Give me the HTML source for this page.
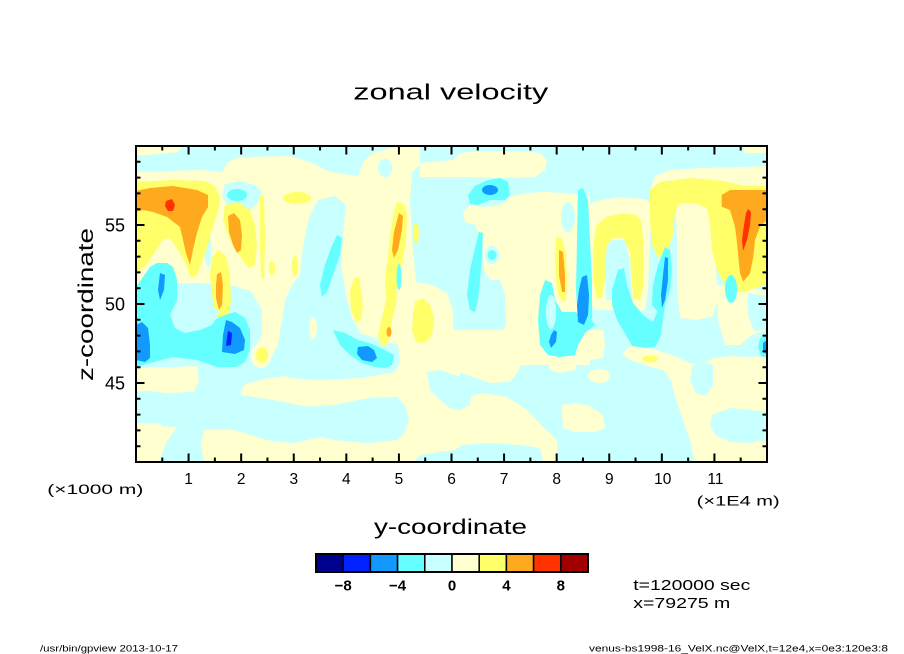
<!DOCTYPE html>
<html><head><meta charset="utf-8"><style>
html,body{margin:0;padding:0;background:#fff;}
svg{display:block;}
text{font-family:"Liberation Sans",sans-serif;fill:#000;}
</style></head><body>
<svg width="904" height="654" viewBox="0 0 904 654" xmlns="http://www.w3.org/2000/svg">
<defs><clipPath id="pc"><rect x="136" y="146" width="631" height="316"/></clipPath></defs>
<rect width="904" height="654" fill="#fff"/>
<g clip-path="url(#pc)" stroke-linejoin="round">
<rect x="136" y="146" width="631" height="316" fill="#c8ffff"/>
<!-- LY -->
<g fill="#ffffd0">
<polygon points="136,146 182,146 178,152 150,155 136,155"/>
<polygon points="136,172 205,170 222,172 228,162 240,157 290,156 310,162 330,172 358,176 363,162 372,153 392,148 420,146 420,165 412,172 410,200 413,250 416,282 432,285 447,293 453,310 453,335 453,355 440,365 420,372 380,375 340,378 280,378 260,370 250,340 250,290 200,284 136,284"/>
<polygon points="136,360 460,360 460,462 136,462"/>
<polygon points="420,163 453,160 460,153 480,151 520,151 540,153 547,160 545,170 535,177 500,178 470,177 453,177 420,177"/>
<polygon points="463,212 470,205 485,207 500,205 510,197 525,193 545,192 565,193 590,196 590,365 420,365 420,330 453,330 460,336 500,336 506,325 505,295 500,280 490,275 486,265 482,240 475,225 465,222"/>
<polygon points="588,205 600,200 620,197 645,199 652,205 650,240 648,290 645,310 630,312 610,310 595,310 588,300"/>
<polygon points="650,190 655,176 670,170 700,168 740,167 767,166 767,205 650,205"/>
<polygon points="743,146 767,146 767,153 745,153"/>
<polygon points="675,195 715,195 718,230 716,270 718,300 712,317 695,320 680,318 677,290 677,240"/>
<polygon points="717,285 750,287 767,292 767,330 752,335 740,345 725,345 718,320"/>
<polygon points="450,330 538,330 540,343 547,360 537,362 522,363 517,373 510,382 490,383 473,377 460,372 450,370"/>
<polygon points="547,358 560,355 575,353 578,360 575,370 560,373 550,370"/>
<polygon points="582,330 603,330 605,345 603,358 590,360 583,350"/>
<ellipse cx="599" cy="376" rx="11" ry="7"/>
<polygon points="621.7,353.3 631.7,345 656.7,350 676.7,356.7 690,363.3 690,386.7 683.3,393.3 676.7,396.7 673.3,383.3 663.3,370 650,366.7 630,360"/>
<polygon points="670,362 690,363 700,365 713,358 730,356 750,357 767,356 767,462 695,462 690,440 683,420 676,400 672,385"/>
<polygon points="450,410 463,398 483,393 507,397 527,410 543,427 557,440 558,462 543,462 540,448 520,445 490,443 460,445 450,447"/>
<polygon points="562,405 575,403 590,406 603,415 605,428 595,432 575,432 563,428 562,415"/>
</g>
<!-- LC carves -->
<g fill="#c8ffff">
<ellipse cx="385" cy="168" rx="7" ry="9"/>
<polygon points="318,200 335,196 346,205 343,235 341,265 346,295 352,318 360,333 380,340 398,345 400,362 395,372 360,378 320,380 290,378 275,372 270,360 278,345 282,320 285,300 292,285 300,275 302,255 305,235 310,215"/>
<polygon points="225,184 240,181 255,185 262,192 258,203 250,210 240,212 228,207 222,196"/>
<ellipse cx="208" cy="250" rx="3.5" ry="17"/>
<polygon points="136,284 200,283 235,286 252,293 262,310 262,335 255,347 265,366 200,366 136,368"/>
<polygon points="136,391.7 147.3,390.7 167.3,393.3 194,391.7 199,380 197.3,366.7 200.7,363.3 214,363.3 234,365 244,376.7 242.3,388.3 240.7,395 274,400 307.3,406.7 334,405 367.3,398.3 397.3,396.7 405.7,406.7 409,420 404,433.3 397.3,440 367.3,443.3 334,440 320.7,436.7 294,443.3 267.3,440 234,430 204,430 200.7,443.3 204,462.3 159,462.3 165.7,443.3 177.3,426.7 164,426.7 159,423.3 136,423.3"/>
<polygon points="200.7,361.7 340.7,361.7 334,373.3 320.7,368.3 314,372.7 294,375 267.3,378.3 247.3,383.3 240.7,388.3 234,396.7 200.7,393.3"/>
<polygon points="427,372 440,370 455,375 465,380 472,390 470,405 460,410 450,408 440,400 430,390"/>
<polygon points="414,462 420,455 440,452 455,450 460,447 460,462"/>
<polygon points="692,366 705,362 713,365 713,385 706,396 696,393 690,380"/>
<polygon points="712,415 730,408 750,410 767,412 767,440 750,443 730,442 715,435 710,425"/>
<polygon points="608,240 625,240 630,260 632,300 606,300 605,260"/>
<ellipse cx="568" cy="217" rx="7" ry="15"/>
<polygon points="748,293 767,296 767,330 754,331 748,315"/>
</g>
<!-- LY islands -->
<g fill="#ffffd0">
<ellipse cx="261" cy="356" rx="10" ry="12"/>
<ellipse cx="313" cy="328" rx="4" ry="11"/>
<polygon points="483,235 500,232 503,240 503,280 490,280 484,270 483,250"/>
</g>
<ellipse cx="492" cy="255" rx="7" ry="9" fill="#c8ffff"/>
<!-- Yellow -->
<g fill="#ffff6a">
<polygon points="136,182 175,180 205,181 215,186 220,198 218,212 213,225 208,245 202,262 197,275 191,278 185,262 178,250 170,238 163,240 155,252 146,265 136,274"/>
<polygon points="225,205 238,202 250,210 255,225 257,245 255,265 248,268 243,260 235,250 228,235 223,220"/>
<polygon points="212,258 218,250 226,256 230,275 231,300 228,318 222,322 215,315 212,295 210,275"/>
<polygon points="260,195 264,196 265,240 264,280 261,278 260,240"/>
<ellipse cx="297" cy="198" rx="14" ry="6"/>
<ellipse cx="272" cy="268" rx="3" ry="7"/>
<ellipse cx="295" cy="266" rx="3" ry="10"/>
<polygon points="397,202 404,204 407,215 406,240 402,265 398,285 392,300 386,297 385,280 388,255 391,230 394,212"/>
<polygon points="354,278 359,277 361,290 363,305 361,320 356,322 351,310 350,292"/>
<polygon points="392,287 397,292 396,305 392,320 390,335 387,345 381,345 378,335 382,318 386,300"/>
<ellipse cx="416" cy="233" rx="3" ry="10"/>
<polygon points="415,302 423,298 430,305 434,318 432,335 425,343 416,342 412,330 413,315"/>
<ellipse cx="262" cy="355" rx="6" ry="8"/>
<polygon points="556,237 562,238 566,255 567,280 566,300 562,302 557,290 555,260"/>
<polygon points="593.3,245 596.7,225 606.7,216.7 623.3,213.3 636.7,215 641.7,221.7 643.3,245 643.3,285 640,300 633.3,298.3 631.7,278.3 630,251.7 623.3,238.3 613.3,238.3 606.7,245 605,278.3 601.7,298.3 596.7,298.3 593.3,278.3"/>
<polygon points="650,190 660,182 690,178 723,181 740,185 767,186 767,285 755,288 745,292 735,292 725,285 717,270 712,250 710,225 707,208 695,203 680,203 675,212 673,235 667,252 658,258 652,245 650,220"/>
<ellipse cx="650" cy="359" rx="8" ry="3.5"/>
</g>
<!-- Orange -->
<g fill="#ffaa1e">
<polygon points="136,191 150,188 173,186 197,190 208,195 208,207 202,217 197,233 193,250 190,265 186,253 180,227 167,217 153,212 143,210 136,212"/>
<polygon points="228,216 234,213 240,220 242,235 241,250 237,253 233,245 229,232"/>
<polygon points="217,274 221,272 223,285 222,305 219,310 216,298 216,285"/>
<polygon points="399,213 403,216 402,230 398,250 394,258 392,250 394,232"/>
<ellipse cx="389" cy="332" rx="2.5" ry="5"/>
<polygon points="559,250 563,252 565,275 565,292 562,292 559,275"/>
<polygon points="721.7,195 730,190 767,190 767,220 760,226.7 755,240 753.3,256.7 750,273.3 743.3,281.7 740,273.3 738.3,256.7 736.7,240 735,226.7 730,210 721.7,206.7"/>
</g>
<!-- Red -->
<g fill="#ff3200">
<polygon points="166,201 172,199 175,205 173,211 168,211 165,206"/>
<polygon points="748,209 751,212 750,225 747,240 743,251 742,240 744,225 746,213"/>
</g>
<!-- Cyan -->
<g fill="#66ffff">
<polygon points="136,287 143,277 150,267 157,263 167,263 173,267 177,280 177,300 180,312 190,320 210,322 225,315 235,312 245,318 250,330 250,350 245,362 237,367 217,367 197,360 173,357 150,363 136,367"/>
</g>
<polygon fill="#c8ffff" points="178,298 195,300 210,305 220,312 212,325 200,330 185,333 175,328 170,315"/>
<g fill="#66ffff">
<ellipse cx="237" cy="195" rx="10" ry="6"/>
<polygon points="337,235 342,238 340,255 333,275 327,292 322,297 320,285 325,265 331,248"/>
<polygon points="333,330 345,333 358,340 372,344 385,350 394,355 392,365 385,368 375,367 362,363 350,355 340,345"/>
<ellipse cx="399" cy="277" rx="2.5" ry="13"/>
<polygon points="479,232 483,233 482,255 480,280 478,300 475,312 470,310 467,295 470,270 475,248"/>
<polygon points="468,195 475,186 488,180 500,178 508,182 510,195 505,200 490,200 478,205 470,204"/>
<ellipse cx="492" cy="255" rx="4.5" ry="5"/>
<polygon points="578,190 583,188 588,200 590,240 592,280 592,318 585,325 578,320 576,290 577,240"/>
<polygon points="545,280 552,283 555,300 562,312 575,312 590,318 595,325 585,333 578,345 575,355 560,357 548,355 540,345 538,320 540,295"/>
<polygon points="665,247 670,250 672,270 670,290 665,305 658,312 652,305 653,285 658,265"/>
<polygon points="612,290 618,270 624,268 627,285 633,303 643,315 653,322 658,310 660,300 665,305 663,320 660,338 655,347 645,348 632,346 626,335 617,320 612,305"/>
<ellipse cx="731" cy="289" rx="6" ry="14"/>
<polygon points="767,335 760,338 758,347 761,356 767,358"/>
</g>
<ellipse cx="551" cy="312" rx="5" ry="17" fill="#c8ffff"/>
<!-- Mid blue -->
<g fill="#1199ff">
<polygon points="136,325 142,322 148,328 150,345 150,358 145,362 136,360"/>
<polygon points="160,273 165,275 164,290 160,300 158,290"/>
<polygon points="226,320 232,322 240,328 245,340 244,350 235,354 222,352 223,335"/>
<polygon points="358,347 368,346 374,350 377,358 372,362 362,360 357,354"/>
<ellipse cx="490" cy="190" rx="8" ry="5"/>
<polygon points="582,277 587,275 589,295 588,315 584,325 578,322 577,305 579,290"/>
<polygon points="554,330 557,332 556,342 551,348 549,342 551,335"/>
<polygon points="665,257 668,258 668,280 665,300 662,308 661,295 663,275"/>
<polygon points="767,340 763,343 763,352 767,354"/>
</g>
<polygon fill="#0022ff" points="228,331 232,333 231,345 226,346 227,338"/>
</g>
<!-- frame -->
<rect x="136" y="146" width="631" height="316" fill="none" stroke="#000" stroke-width="2"/>
<g stroke="#000" stroke-width="2">
<path d="M162.29,462v-4.5M188.58,462v-8.5M214.88,462v-4.5M241.17,462v-8.5M267.46,462v-4.5M293.75,462v-8.5M320.04,462v-4.5M346.33,462v-8.5M372.63,462v-4.5M398.92,462v-8.5M425.21,462v-4.5M451.5,462v-8.5M477.79,462v-4.5M504.08,462v-8.5M530.38,462v-4.5M556.67,462v-8.5M582.96,462v-4.5M609.25,462v-8.5M635.54,462v-4.5M661.83,462v-8.5M688.13,462v-4.5M714.42,462v-8.5M740.71,462v-4.5"/>
<path d="M162.29,146v4.5M188.58,146v8.5M214.88,146v4.5M241.17,146v8.5M267.46,146v4.5M293.75,146v8.5M320.04,146v4.5M346.33,146v8.5M372.63,146v4.5M398.92,146v8.5M425.21,146v4.5M451.5,146v8.5M477.79,146v4.5M504.08,146v8.5M530.38,146v4.5M556.67,146v8.5M582.96,146v4.5M609.25,146v8.5M635.54,146v4.5M661.83,146v8.5M688.13,146v4.5M714.42,146v8.5M740.71,146v4.5"/>
<path d="M136,446.2h4.5M136,430.4h4.5M136,414.6h4.5M136,398.8h4.5M136,383h8.5M136,367.2h4.5M136,351.4h4.5M136,335.6h4.5M136,319.8h4.5M136,304h8.5M136,288.2h4.5M136,272.4h4.5M136,256.6h4.5M136,240.8h4.5M136,225h8.5M136,209.2h4.5M136,193.4h4.5M136,177.6h4.5M136,161.8h4.5"/>
<path d="M767,446.2h-4.5M767,430.4h-4.5M767,414.6h-4.5M767,398.8h-4.5M767,383h-8.5M767,367.2h-4.5M767,351.4h-4.5M767,335.6h-4.5M767,319.8h-4.5M767,304h-8.5M767,288.2h-4.5M767,272.4h-4.5M767,256.6h-4.5M767,240.8h-4.5M767,225h-8.5M767,209.2h-4.5M767,193.4h-4.5M767,177.6h-4.5M767,161.8h-4.5"/>
</g>
<text x="353.3" y="99.3" font-size="22" textLength="195" lengthAdjust="spacingAndGlyphs">zonal velocity</text>
<g font-size="15.5" text-anchor="middle">
<text x="188.6" y="484">1</text><text x="241.2" y="484">2</text><text x="293.8" y="484">3</text><text x="346.3" y="484">4</text><text x="398.9" y="484">5</text><text x="451.5" y="484">6</text><text x="504.1" y="484">7</text><text x="556.7" y="484">8</text><text x="609.3" y="484">9</text><text x="662.8" y="484">10</text><text x="715.4" y="484">11</text>
</g>
<g font-size="18" text-anchor="end">
<text x="125" y="231.7">55</text><text x="125" y="310.7">50</text><text x="125" y="389.7">45</text>
</g>
<text x="47.3" y="494" font-size="14" textLength="96" lengthAdjust="spacingAndGlyphs">(×1000 m)</text>
<text x="696.7" y="505.7" font-size="14" textLength="83" lengthAdjust="spacingAndGlyphs">(×1E4 m)</text>
<text x="374" y="534" font-size="21" textLength="153" lengthAdjust="spacingAndGlyphs">y-coordinate</text>
<text transform="translate(93,381) rotate(-90)" x="0" y="0" font-size="21" textLength="153" lengthAdjust="spacingAndGlyphs">z-coordinate</text>
<g stroke="#000" stroke-width="1.5">
<rect x="316" y="554" width="27.2" height="18" fill="#000090"/>
<rect x="343.2" y="554" width="27.2" height="18" fill="#0022ff"/>
<rect x="370.4" y="554" width="27.2" height="18" fill="#1199ff"/>
<rect x="397.6" y="554" width="27.2" height="18" fill="#66ffff"/>
<rect x="424.8" y="554" width="27.2" height="18" fill="#c8ffff"/>
<rect x="452" y="554" width="27.2" height="18" fill="#ffffd0"/>
<rect x="479.2" y="554" width="27.2" height="18" fill="#ffff6a"/>
<rect x="506.4" y="554" width="27.2" height="18" fill="#ffaa1e"/>
<rect x="533.6" y="554" width="27.2" height="18" fill="#ff3200"/>
<rect x="560.8" y="554" width="27.2" height="18" fill="#a00000"/>
<rect x="316" y="554" width="272" height="18" fill="none" stroke-width="2"/>
</g>
<g font-size="15" font-weight="bold" text-anchor="middle">
<text x="343.2" y="590.7">−8</text><text x="397.6" y="590.7">−4</text><text x="452" y="590.7">0</text><text x="506.4" y="590.7">4</text><text x="560.8" y="590.7">8</text>
</g>
<text x="633.3" y="590" font-size="15" textLength="117" lengthAdjust="spacingAndGlyphs">t=120000 sec</text>
<text x="633.3" y="608" font-size="15" textLength="97" lengthAdjust="spacingAndGlyphs">x=79275 m</text>
<text x="40" y="651.5" font-size="9" textLength="138" lengthAdjust="spacingAndGlyphs">/usr/bin/gpview  2013-10-17</text>
<text x="589" y="651.5" font-size="9" textLength="299" lengthAdjust="spacingAndGlyphs">venus-bs1998-16_VelX.nc@VelX,t=12e4,x=0e3:120e3:8</text>
</svg>
</body></html>
